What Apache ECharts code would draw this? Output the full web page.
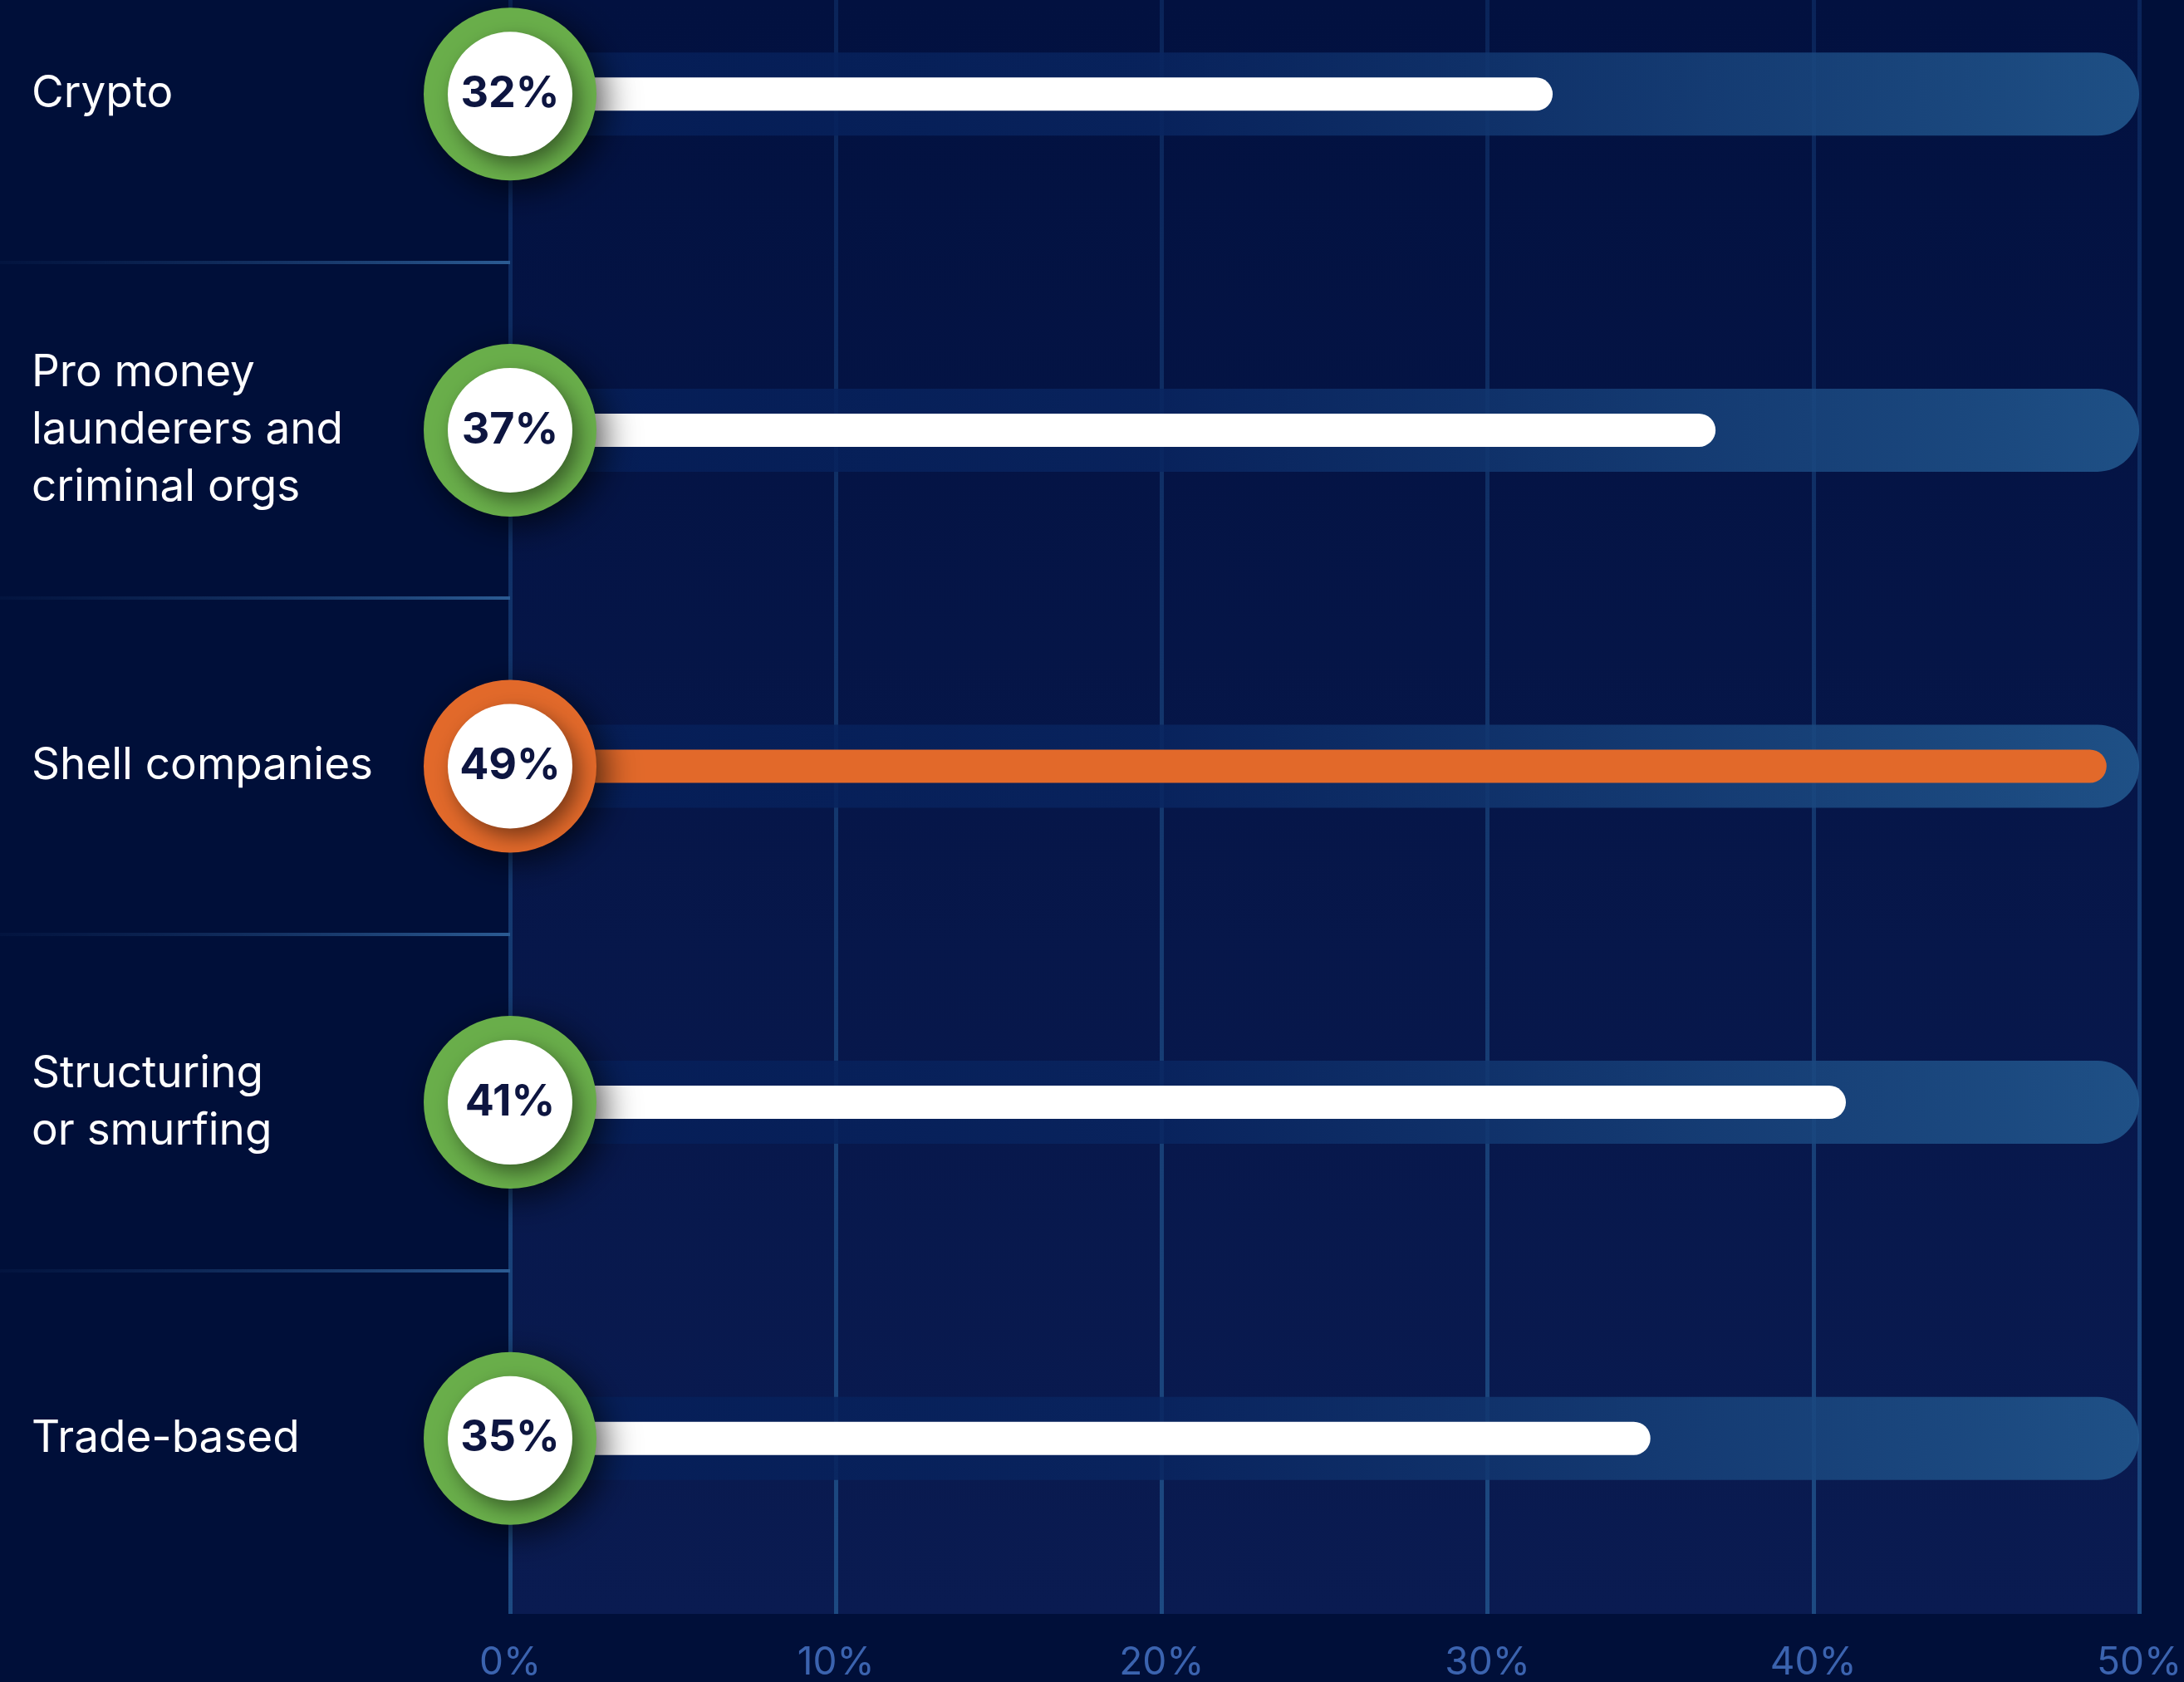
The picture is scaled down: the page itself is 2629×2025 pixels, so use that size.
<!DOCTYPE html>
<html><head><meta charset="utf-8">
<script src="https://cdn.jsdelivr.net/npm/echarts@6/dist/echarts.min.js"></script>
<style>html,body{margin:0;padding:0;background:#000f39;} #c{width:2629px;height:2025px;}</style>
</head><body><div id="c"></div>
<script>
// ---- data (top to bottom as in the picture) ----
const categories = ['Crypto', 'Pro money\nlaunderers and\ncriminal orgs', 'Shell companies', 'Structuring\nor smurfing', 'Trade-based'];
const values = [32, 37, 49, 41, 35];
const ringColors = ['#69ae4a', '#69ae4a', '#e2692a', '#69ae4a', '#69ae4a'];
const barColors = ['#ffffff', '#ffffff', '#e2692a', '#ffffff', '#ffffff'];
const xMin = 0, xMax = 50, xStep = 10;

// bottom-up order for a non-inverted category axis
const cats = categories.slice().reverse();
const vals = values.slice().reverse();
const rings = ringColors.slice().reverse();
const bars = barColors.slice().reverse();

const chart = echarts.init(document.getElementById('c'), null, {renderer: 'canvas'});
const G = echarts.graphic.LinearGradient;

const option = {
  animation: false,
  backgroundColor: '#000f39',
  textStyle: {fontFamily: 'Inter'},
  grid: [
    {left: 614, right: 54, top: 0, bottom: 82, show: true, borderWidth: 0, outerBoundsMode: 'none', containLabel: false,
     backgroundColor: new G(0, 0, 0, 1, [{offset: 0, color: '#021140'}, {offset: 1, color: '#0a1b51'}])},
    {left: 614, right: 54, top: -89, bottom: 91, outerBoundsMode: 'none', containLabel: false}
  ],
  xAxis: [
    {gridIndex: 0, type: 'value', min: xMin, max: xMax, interval: xStep,
     axisLine: {show: false}, axisTick: {show: false},
     splitLine: {show: true, lineStyle: {width: 5,
       color: new G(0, 0, 0, 1943, [{offset: 0, color: '#0a2459'}, {offset: 1, color: '#1d4a82'}], true)}},
     axisLabel: {formatter: '{value}%', color: '#3b63af', fontSize: 46, margin: 36, fontFamily: 'Inter'}},
    {gridIndex: 1, type: 'value', min: xMin, max: xMax, show: false}
  ],
  yAxis: [
    {gridIndex: 0, type: 'value', show: false},
    {gridIndex: 1, type: 'category', data: cats, boundaryGap: true,
     axisLine: {show: false},
     axisTick: {show: true, length: 614, inside: false, interval: (i) => i > 0,
       lineStyle: {width: 4, color: new G(0, 0, 614, 0, [{offset: 0, color: 'rgba(20,50,100,0.15)'}, {offset: 1, color: '#2b5b93'}], true)}},
     axisLabel: {interval: 0, align: 'left', margin: 576, color: '#ffffff', fontSize: 53, lineHeight: 69, fontFamily: 'Inter'},
     splitLine: {show: false}},
    {gridIndex: 1, type: 'category', data: cats, show: false}
  ],
  series: [
    {name: 'track', type: 'bar', xAxisIndex: 1, yAxisIndex: 1, z: 2,
     barWidth: 100, data: vals.map(() => xMax),
     itemStyle: {borderRadius: 50,
       color: new G(0, 0, 1, 0, [{offset: 0, color: 'rgba(5,30,88,0.85)'}, {offset: 0.4, color: 'rgba(9,37,96,0.85)'}, {offset: 1, color: 'rgba(34,88,142,0.88)'}])}},
    {name: 'value', type: 'bar', xAxisIndex: 1, yAxisIndex: 2, z: 3,
     barWidth: 40,
     data: vals.map((v, i) => ({value: v, itemStyle: {color: bars[i]}})),
     itemStyle: {borderRadius: 20}},
    {name: 'ring', type: 'scatter', xAxisIndex: 1, yAxisIndex: 1, z: 4, clip: false,
     symbol: 'circle', symbolSize: 208,
     data: vals.map((v, i) => ({value: [xMin, i, v], itemStyle: {color: rings[i]}})),
     itemStyle: {opacity: 1, shadowBlur: 40, shadowColor: 'rgba(0,0,0,0.65)', shadowOffsetX: 10, shadowOffsetY: 10}},
    {name: 'label', type: 'scatter', xAxisIndex: 1, yAxisIndex: 1, z: 5, clip: false,
     symbol: 'circle', symbolSize: 150,
     data: vals.map((v, i) => [xMin, i, v]),
     itemStyle: {color: '#ffffff', opacity: 1, shadowBlur: 24, shadowColor: 'rgba(0,0,0,0.45)', shadowOffsetX: 8, shadowOffsetY: 10},
     label: {show: true, position: 'inside', formatter: (p) => p.value[2] + '%',
       color: '#0d1540', fontSize: 52, fontWeight: 'bold', fontFamily: 'Inter'}}
  ]
};
chart.setOption(option);
</script>
</body></html>
